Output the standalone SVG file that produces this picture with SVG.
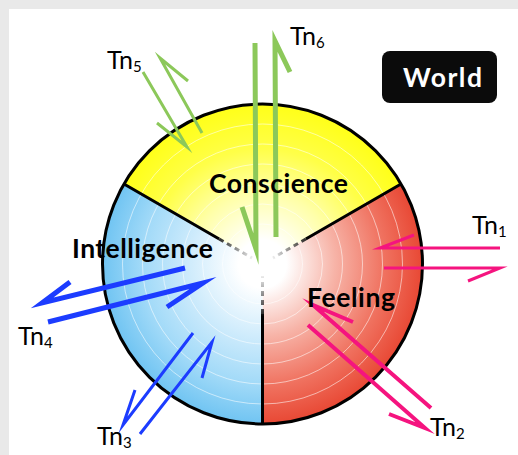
<svg xmlns="http://www.w3.org/2000/svg" width="518" height="455" viewBox="0 0 518 455">
  <defs>
    <radialGradient id="gY" gradientUnits="userSpaceOnUse" cx="262.5" cy="264" r="160">
      <stop offset="0" stop-color="#ffffff"/>
      <stop offset="0.15" stop-color="#ffffff"/>
      <stop offset="0.45" stop-color="#ffffa8"/>
      <stop offset="0.72" stop-color="#ffff48"/>
      <stop offset="1" stop-color="#ffff18"/>
    </radialGradient>
    <radialGradient id="gR" gradientUnits="userSpaceOnUse" cx="262.5" cy="264" r="160">
      <stop offset="0" stop-color="#ffffff"/>
      <stop offset="0.15" stop-color="#ffffff"/>
      <stop offset="0.45" stop-color="#f7b4a8"/>
      <stop offset="0.75" stop-color="#f07462"/>
      <stop offset="1" stop-color="#e84834"/>
    </radialGradient>
    <radialGradient id="gB" gradientUnits="userSpaceOnUse" cx="262.5" cy="264" r="160">
      <stop offset="0" stop-color="#ffffff"/>
      <stop offset="0.15" stop-color="#ffffff"/>
      <stop offset="0.45" stop-color="#d0ecfc"/>
      <stop offset="0.75" stop-color="#a2daf8"/>
      <stop offset="1" stop-color="#70c4f2"/>
    </radialGradient>
    <radialGradient id="gFade" gradientUnits="userSpaceOnUse" cx="262.5" cy="264" r="70">
      <stop offset="0" stop-color="#000"/>
      <stop offset="0.12" stop-color="#000"/>
      <stop offset="0.75" stop-color="#fff"/>
      <stop offset="1" stop-color="#fff"/>
    </radialGradient>
    <mask id="mFade" maskUnits="userSpaceOnUse" x="0" y="0" width="518" height="455">
      <rect x="0" y="0" width="518" height="455" fill="url(#gFade)"/>
    </mask>
  </defs>
  <style>
    .ring { fill: none; stroke: #ffffff; stroke-opacity: 0.55; stroke-width: 1; }
    .div { stroke: #000; stroke-width: 3; fill: none; }
    .divd { stroke: #222; stroke-width: 3; fill: none; stroke-dasharray: 5 4; }
    .lbl { font-family: Lato, "Open Sans", "Liberation Sans", sans-serif; font-weight: bold; font-size: 26.5px; fill: #000; }
    .tn { font-family: Lato, "Open Sans", "Liberation Sans", sans-serif; font-size: 25px; fill: #000; }
    .sub { font-size: 15px; }
    .h { fill: none; stroke-linejoin: miter; stroke-miterlimit: 20; stroke-linecap: butt; }
    .green { stroke: #8cc85a; }
    .pink { stroke: #f5147f; }
    .blue { stroke: #1c3cff; }
    .w5 { stroke-width: 5; }
    .w4 { stroke-width: 4; }
    .w3 { stroke-width: 3; }
  </style>

  <rect x="0" y="0" width="518" height="455" fill="#e9e9e9"/>
  <rect x="9" y="9" width="509" height="446" fill="#ffffff"/>

  <g id="sector-conscience">
    <path d="M262.5 264 L124 184 A160 160 0 0 1 401 184 Z" fill="url(#gY)"/>
  </g>
  <g id="sector-feeling">
    <path d="M262.5 264 L401 184 A160 160 0 0 1 262.5 424 Z" fill="url(#gR)"/>
  </g>
  <g id="sector-intelligence">
    <path d="M262.5 264 L262.5 424 A160 160 0 0 1 124 184 Z" fill="url(#gB)"/>
  </g>

  <g id="rings">
    <circle class="ring" cx="262.5" cy="264" r="20"/>
    <circle class="ring" cx="262.5" cy="264" r="40"/>
    <circle class="ring" cx="262.5" cy="264" r="60"/>
    <circle class="ring" cx="262.5" cy="264" r="80"/>
    <circle class="ring" cx="262.5" cy="264" r="100"/>
    <circle class="ring" cx="262.5" cy="264" r="120"/>
    <circle class="ring" cx="262.5" cy="264" r="140"/>
  </g>

  <g id="dividers" mask="url(#mFade)">
    <path class="div" d="M124 184 L219.2 239 M401 184 L305.8 239 M262.5 424 L262.5 314"/>
    <path class="divd" d="M219.2 239 L252.1 258 M305.8 239 L272.9 258 M262.5 314 L262.5 276"/>
  </g>

  <g id="outline">
    <circle cx="262.5" cy="264" r="160" fill="none" stroke="#000" stroke-width="3"/>
  </g>

  <g id="connectors">
    <path class="h green w5" d="M255 43 L256 249 L242 207"/>
    <path class="h green w5" d="M276 237 L275 41 L290 72"/>
    <path class="h green w3" d="M143 72 L187 147 L157 123"/>
    <path class="h green w3" d="M202 133 L160 58 L188 81"/>
    <path class="h pink w3" d="M500 248 L380 248 L414 235"/>
    <path class="h pink w3" d="M384 268 L500 268 L468 281"/>
    <path class="h pink w4" d="M431 408 L313 305 L353 322"/>
    <path class="h pink w4" d="M308 325 L425 428 L389 414"/>
    <path class="h blue w5" d="M185 268 L42 303 L70 282"/>
    <path class="h blue w5" d="M48 322 L203 283 L167 307"/>
    <path class="h blue w3" d="M193 333 L123 425 L135 390"/>
    <path class="h blue w3" d="M140 434 L212 342 L202 378"/>
  </g>

  <g id="label-conscience">
    <text class="lbl" x="209" y="193" textLength="139" lengthAdjust="spacing">Conscience</text>
  </g>
  <g id="label-intelligence">
    <text class="lbl" x="72" y="258" textLength="141" lengthAdjust="spacing">Intelligence</text>
  </g>
  <g id="label-feeling">
    <text class="lbl" x="307" y="307" textLength="88" lengthAdjust="spacing">Feeling</text>
  </g>

  <g id="world">
    <rect x="382" y="51" width="115" height="52" rx="8" ry="8" fill="#0b0b0b"/>
    <text class="lbl" x="403" y="87" textLength="79" lengthAdjust="spacing" style="fill:#ffffff">World</text>
  </g>

  <g id="tn1"><text class="tn" x="472" y="234">Tn<tspan class="sub" dy="3">1</tspan></text></g>
  <g id="tn2"><text class="tn" x="430" y="436">Tn<tspan class="sub" dy="3">2</tspan></text></g>
  <g id="tn3"><text class="tn" x="97" y="445">Tn<tspan class="sub" dy="3">3</tspan></text></g>
  <g id="tn4"><text class="tn" x="18" y="345">Tn<tspan class="sub" dy="3">4</tspan></text></g>
  <g id="tn5"><text class="tn" x="107" y="69">Tn<tspan class="sub" dy="3">5</tspan></text></g>
  <g id="tn6"><text class="tn" x="290" y="45">Tn<tspan class="sub" dy="3">6</tspan></text></g>
</svg>
